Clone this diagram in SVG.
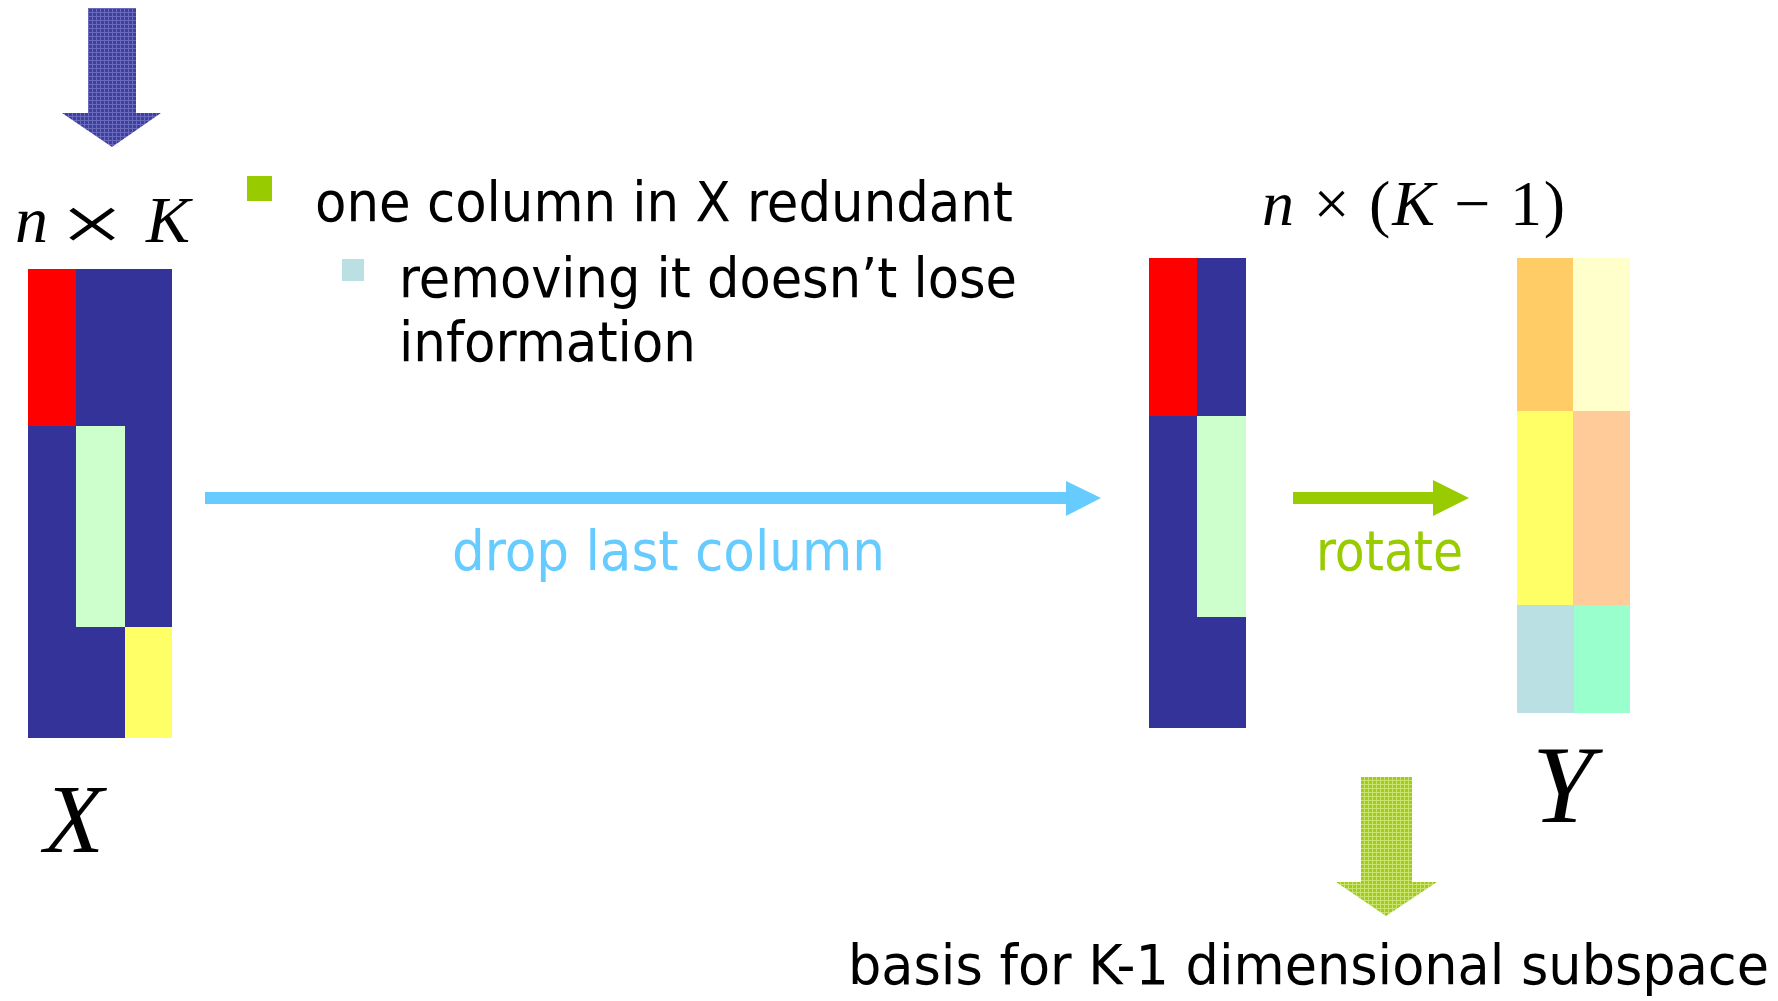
<svg xmlns="http://www.w3.org/2000/svg" width="1778" height="1001" viewBox="0 0 1778 1001">
<style>
.txt{font-family:"DejaVu Sans Condensed","DejaVu Sans","Liberation Sans",sans-serif;font-stretch:condensed;font-size:56px;fill:#000}
.math{font-family:"Liberation Serif","DejaVu Serif",serif;fill:#000}
.it{font-style:italic}
.navy{fill:#333399}
.red{fill:#ff0000}
.lgreen{fill:#ccffcc}
.yel{fill:#ffff66}
</style>
<defs>
<pattern id="bluePat" width="4" height="4" patternUnits="userSpaceOnUse">
<rect width="4" height="4" fill="#3f3fa0"/>
<rect x="0" y="0" width="4" height="1" fill="#6a6abd"/>
<rect x="0" y="0" width="1" height="4" fill="#6a6abd"/>
</pattern>
<pattern id="greenPat" width="4" height="4" patternUnits="userSpaceOnUse">
<rect width="4" height="4" fill="#a3cc1a"/>
<rect x="0" y="0" width="4" height="1" fill="#c8e370"/>
<rect x="0" y="0" width="1" height="4" fill="#c8e370"/>
</pattern>
</defs>
<rect width="1778" height="1001" fill="#ffffff"/>

<g id="blue-down-arrow">
<polygon points="88,8 136,8 136,113 161,113 112,147 62,113 88,113" fill="url(#bluePat)"/>
</g>

<g id="label-nK">
<text class="math it" x="15" y="242" font-size="66">n</text>
<text class="math" x="0" y="0" transform="translate(92,251) scale(1.4,1)" text-anchor="middle" font-size="80">×</text>
<text class="math it" x="146" y="242" font-size="66">K</text>
</g>

<g id="matrix-X">
<rect class="navy" x="28" y="269" width="144" height="469"/>
<rect class="red" x="28" y="269" width="48" height="157"/>
<rect class="lgreen" x="76" y="426" width="49" height="201"/>
<rect class="yel" x="125" y="627" width="47" height="111"/>
</g>

<g id="label-X">
<text class="math it" x="44" y="852" font-size="98">X</text>
</g>

<g id="bullets">
<rect x="247" y="176" width="25" height="25" fill="#99cc00"/>
<text class="txt" x="315" y="221" textLength="698" lengthAdjust="spacingAndGlyphs">one column in X redundant</text>
<rect x="342" y="259" width="22" height="22" fill="#bbe0e3"/>
<text class="txt" x="399" y="297" textLength="618" lengthAdjust="spacingAndGlyphs">removing it doesn’t lose</text>
<text class="txt" x="399" y="361" textLength="297" lengthAdjust="spacingAndGlyphs">information</text>
</g>

<g id="label-nK1">
<text class="math" x="1262" y="225" font-size="64" textLength="303" lengthAdjust="spacing"><tspan font-style="italic">n</tspan> × (<tspan font-style="italic">K</tspan> − 1)</text>
</g>

<g id="matrix-mid">
<rect class="navy" x="1149" y="258" width="97" height="470"/>
<rect class="red" x="1149" y="258" width="48" height="158"/>
<rect class="lgreen" x="1197" y="416" width="49" height="201"/>
</g>

<g id="matrix-Y">
<rect x="1517" y="258" width="57" height="153" fill="#ffcc66"/>
<rect x="1573" y="258" width="57" height="153" fill="#ffffcc"/>
<rect x="1517" y="411" width="57" height="194" fill="#ffff66"/>
<rect x="1573" y="411" width="57" height="194" fill="#ffcc99"/>
<rect x="1517" y="605" width="57" height="108" fill="#bbe0e3"/>
<rect x="1574" y="605" width="56" height="108" fill="#99ffcc"/>
</g>

<g id="label-Y">
<text class="math it" x="1532" y="822" font-size="110">Y</text>
</g>

<g id="connectors">
<g id="drop-arrow">
<rect x="205" y="492" width="862" height="12" fill="#66ccff"/>
<polygon points="1066,481 1101,498 1066,516" fill="#66ccff"/>
<text class="txt" x="452" y="570" style="fill:#66ccff" textLength="433" lengthAdjust="spacingAndGlyphs">drop last column</text>
</g>
<g id="rotate-arrow">
<rect x="1293" y="492" width="141" height="12" fill="#99cc00"/>
<polygon points="1433,480 1469,498 1433,516" fill="#99cc00"/>
<text class="txt" x="1316" y="570" style="fill:#99cc00" textLength="147" lengthAdjust="spacingAndGlyphs">rotate</text>
</g>
</g>

<g id="green-down-arrow">
<polygon points="1361,777 1412,777 1412,882 1437,882 1386,916 1336,882 1361,882" fill="url(#greenPat)"/>
</g>

<g id="label-basis">
<text class="txt" x="848" y="984" textLength="921" lengthAdjust="spacingAndGlyphs">basis for K-1 dimensional subspace</text>
</g>
</svg>
